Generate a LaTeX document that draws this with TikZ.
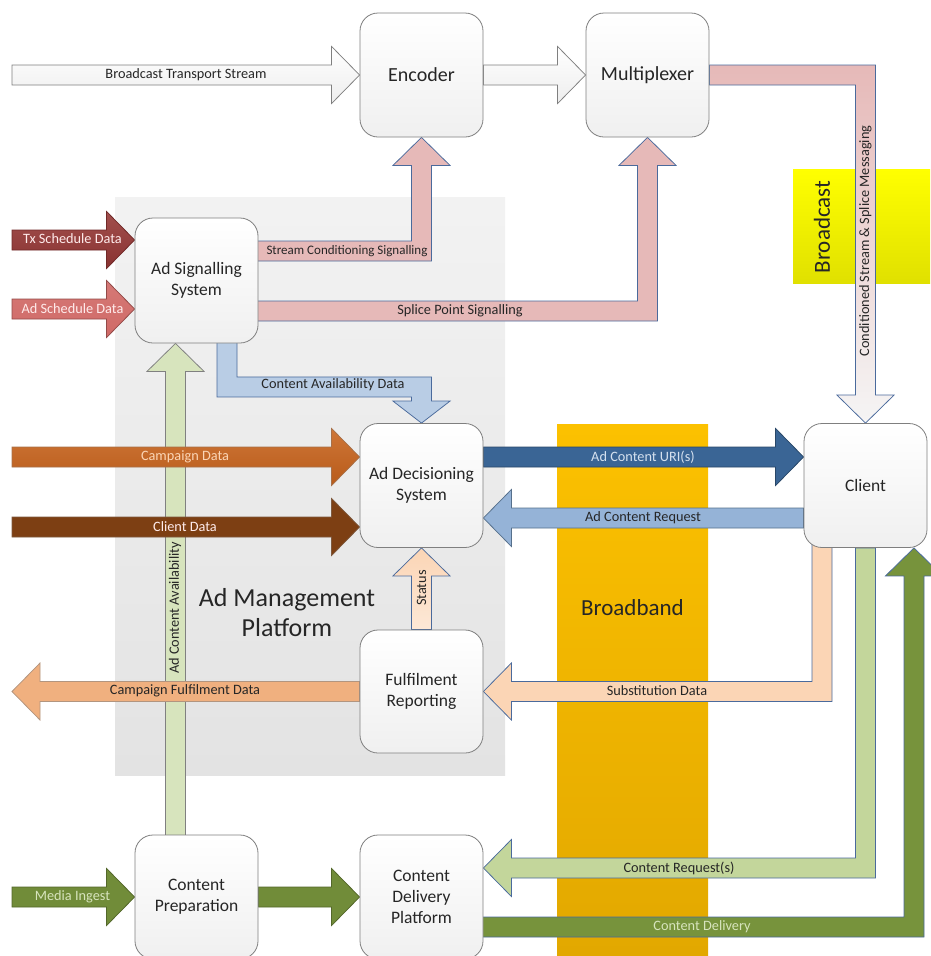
\documentclass[tikz,border=0pt]{standalone}
\usepackage{fontspec}
\setmainfont{Carlito}
\usetikzlibrary{calc,backgrounds}

\definecolor{boxline}{HTML}{7F7F7F}
\definecolor{textdark}{HTML}{262626}
\definecolor{flowblue}{HTML}{4A6A9C}
\definecolor{pinkfill}{HTML}{E6B9B8}
\definecolor{avblue}{HTML}{B9CDE5}
\definecolor{txred}{HTML}{953735}
\definecolor{adred}{HTML}{D06A67}
\definecolor{acgreen}{HTML}{D7E4BD}
\definecolor{campor}{HTML}{C8631C}
\definecolor{clbrown}{HTML}{7D3F13}
\definecolor{uriblue}{HTML}{3A6595}
\definecolor{reqblue}{HTML}{95B3D7}
\definecolor{peach}{HTML}{FBD5B5}
\definecolor{fulfor}{HTML}{F0B07F}
\definecolor{crgreen}{HTML}{C3D69B}
\definecolor{cdgreen}{HTML}{77933C}

\tikzset{
  box/.style={draw=boxline, line width=0.8pt, rounded corners=18pt,
    top color=white, bottom color=gray!12, minimum width=123pt,
    minimum height=124pt, align=center, text=textdark, inner sep=2pt,
    font=\fontsize{17.5}{21}\selectfont},
  bigbox/.style={box, font=\fontsize{20}{24}\selectfont},
  lbl/.style={font=\fontsize{14.3}{17}\selectfont, text=textdark, inner sep=0pt},
  flow/.style={draw=flowblue, line width=0.75pt, line join=miter},
  btsflow/.style={flow, draw=boxline, top color=white, bottom color=gray!14},
  sigflow/.style={flow, fill=pinkfill},
  condflow/.style={flow, top color=pinkfill, bottom color=gray!8},
  avflow/.style={flow, fill=avblue},
  txflow/.style={flow, draw=txred!75!black, top color=txred!88!white, bottom color=txred!92!black},
  adschflow/.style={flow, draw=adred!70!black, top color=adred!90!white, bottom color=adred},
  acflow/.style={flow, draw=gray, fill=acgreen},
  campflow/.style={flow, draw=campor!55!gray, top color=campor!88!white, bottom color=campor!92!black},
  clientflow/.style={flow, draw=clbrown!60!gray, fill=clbrown},
  uriflow/.style={flow, draw=uriblue!70!black, fill=uriblue},
  reqflow/.style={flow, draw=uriblue!60!gray, fill=reqblue},
  statflow/.style={flow, top color=peach, bottom color=peach!55!white},
  fulflow/.style={flow, draw=fulfor!45!gray, fill=fulfor},
  subflow/.style={flow, fill=peach},
  crflow/.style={flow, fill=crgreen},
  cdflow/.style={flow, fill=cdgreen},
  miflow/.style={flow, draw=cdgreen!70!black, fill=cdgreen!95!black},
}

% straight block arrow: style, start, tip
\newcommand{\flowS}[3]{%
  \coordinate (fa) at #2;
  \coordinate (fb) at #3;
  \coordinate (fh) at ($(fb)!28pt!(fa)$);
  \path[#1] ($(fa)!10pt!90:(fb)$) -- ($(fh)!10pt!90:(fb)$) -- ($(fh)!28.5pt!90:(fb)$)
    -- (fb) -- ($(fh)!28.5pt!-90:(fb)$) -- ($(fh)!10pt!-90:(fb)$)
    -- ($(fa)!10pt!-90:(fb)$) -- cycle;
}
% block arrow with one bend: style, start, corner, tip
\newcommand{\flowL}[4]{%
  \coordinate (fa) at #2;
  \coordinate (fc) at #3;
  \coordinate (fb) at #4;
  \coordinate (fh) at ($(fb)!28pt!(fc)$);
  \coordinate (fp) at ($(fc)!10pt!-90:(fa)$);
  \coordinate (fq) at ($(fp)!10pt!90:(fb)$);
  \coordinate (fr) at ($(fc)!10pt!90:(fa)$);
  \coordinate (fs) at ($(fr)!10pt!-90:(fb)$);
  \path[#1] ($(fa)!10pt!90:(fc)$) -- (fq) -- ($(fh)!10pt!90:(fb)$) -- ($(fh)!28.5pt!90:(fb)$)
    -- (fb) -- ($(fh)!28.5pt!-90:(fb)$) -- ($(fh)!10pt!-90:(fb)$) -- (fs)
    -- ($(fa)!10pt!-90:(fc)$) -- cycle;
}
% block arrow with two bends: style, start, corner, corner, tip
\newcommand{\flowZ}[5]{%
  \coordinate (fa) at #2;
  \coordinate (fc) at #3;
  \coordinate (fd) at #4;
  \coordinate (fb) at #5;
  \coordinate (fh) at ($(fb)!22pt!(fd)$);
  \coordinate (fp) at ($(fc)!10pt!-90:(fa)$);
  \coordinate (fq) at ($(fp)!10pt!90:(fd)$);
  \coordinate (fr) at ($(fc)!10pt!90:(fa)$);
  \coordinate (fs) at ($(fr)!10pt!-90:(fd)$);
  \coordinate (fu) at ($(fd)!10pt!-90:(fc)$);
  \coordinate (fv) at ($(fu)!10pt!90:(fb)$);
  \coordinate (fw) at ($(fd)!10pt!90:(fc)$);
  \coordinate (fx) at ($(fw)!10pt!-90:(fb)$);
  \path[#1] ($(fa)!10pt!90:(fc)$) -- (fq) -- (fv) -- ($(fh)!10pt!90:(fb)$)
    -- ($(fh)!28.5pt!90:(fb)$) -- (fb) -- ($(fh)!28.5pt!-90:(fb)$)
    -- ($(fh)!10pt!-90:(fb)$) -- (fx) -- (fs) -- ($(fa)!10pt!-90:(fc)$) -- cycle;
}

\begin{document}
\begin{tikzpicture}[x=1pt, y=-1pt]
    \useasboundingbox (0,0) rectangle (930,956);

    % Boxes
    \node[bigbox] (enc) at (421.5,75) {Encoder};
    \node[bigbox] (mux) at (647.5,75) {Multiplexer};
    \node[box, minimum height=125pt] (ads) at (196.5,280.5) {Ad Signalling\\System};
    \node[box] (adec) at (421.5,485.5) {Ad Decisioning\\System};
    \node[box] (client) at (865.5,485.5) {Client};
    \node[box, minimum height=123pt] (frep) at (421.5,691.5) {Fulfilment\\Reporting};
    \node[box] (cprep) at (196.5,897) {Content\\Preparation};
    \node[box] (cdp) at (421.5,897) {Content\\Delivery\\Platform};

    % Free ends
    \coordinate (btsin) at (12,75);
    \coordinate (txin) at (12,240);
    \coordinate (adin) at (12,309);
    \coordinate (campin) at (12,457);
    \coordinate (clin) at (12,527);
    \coordinate (fulout) at (12,691.5);
    \coordinate (miin) at (12,897);

    % Arrow labels
    \node[lbl] (btsl) at (186,75) {Broadcast Transport Stream};
    \node[lbl, font=\fontsize{13}{15}\selectfont] (scl) at (347,251) {Stream Conditioning Signalling};
    \node[lbl] (spl) at (460,311) {Splice Point Signalling};
    \node[lbl] (cal) at (333,385) {Content Availability Data};
    \node[lbl, rotate=90] (csl) at (865.5,241) {Conditioned Stream \& Splice Messaging};
    \node[lbl, text=red!8] (txl) at (72.5,239) {Tx Schedule Data};
    \node[lbl, text=red!8] (adl) at (72.5,309) {Ad Schedule Data};
    \node[lbl, text=peach] (campl) at (185,457) {Campaign Data};
    \node[lbl, text=red!8] (cll) at (185,527) {Client Data};
    \node[lbl, text=avblue!60!white] (uril) at (643,457) {Ad Content URI(s)};
    \node[lbl] (reql) at (643,518) {Ad Content Request};
    \node[lbl, rotate=90] (statl) at (421.5,588) {Status};
    \node[lbl] (full) at (185,691) {Campaign Fulfilment Data};
    \node[lbl] (subl) at (657,691) {Substitution Data};
    \node[lbl] (crl) at (679,868) {Content Request(s)};
    \node[lbl, text=acgreen] (cdl) at (702,927) {Content Delivery};
    \node[lbl, text=acgreen] (mil) at (72.5,897) {Media Ingest};
    \node[lbl, rotate=90] (acl) at (175,608) {Ad Content Availability};

    % Area titles
    \node[font=\fontsize{26}{30}\selectfont, text=textdark, align=center] (amp) at (287,613) {Ad Management\\Platform};
    \node[font=\fontsize{23}{27}\selectfont, text=textdark] (bbl) at (632.5,608) {Broadband};
    \node[font=\fontsize{23}{27}\selectfont, text=textdark, rotate=90] (bcl) at (822,227) {Broadcast};

    \begin{scope}[on background layer]
    % Areas
    \path[top color=gray!10, bottom color=gray!22] (115,197) rectangle (505,775);
    \path[top color={rgb,255:red,252;green,193;blue,0}, bottom color={rgb,255:red,226;green,168;blue,0}] (557,424) rectangle (708,956);
    \path[top color=yellow, bottom color=yellow!88!black] (793,169) rectangle (930,283);

    % Signalling
    \flowS{acflow}{($(cprep.north)+(-21,5)$)}{($(ads.south)+(-21,0)$)}
    \coordinate (sc0) at ($(ads.east)+(-5,-29.5)$);
    \flowL{sigflow}{(sc0)}{(enc.south |- sc0)}{(enc.south)}
    \coordinate (sp0) at ($(ads.east)+(-5,30.5)$);
    \flowL{sigflow}{(sp0)}{(mux.south |- sp0)}{(mux.south)}
    \coordinate (ca0) at ($(ads.south)+(30.5,-5)$);
    \coordinate (ca1) at ($(ca0)+(0,48.5)$);
    \flowZ{avflow}{(ca0)}{(ca1)}{(adec.north |- ca1)}{(adec.north)}
    \flowS{txflow}{(txin)}{(ads.west |- txin)}
    \flowS{adschflow}{(adin)}{(ads.west |- adin)}

    % Broadcast chain
    \flowS{btsflow}{(btsin)}{(enc.west)}
    \flowS{btsflow}{(enc.east)}{(mux.west)}
    \flowL{condflow}{(mux.east)}{(client.north |- mux.east)}{(client.north)}

    % Decisioning
    \flowS{campflow}{(campin)}{(adec.west |- campin)}
    \flowS{clientflow}{(clin)}{(adec.west |- clin)}
    \flowS{uriflow}{($(adec.east)+(0,-28.5)$)}{($(client.west)+(0,-28.5)$)}
    \flowS{reqflow}{($(client.west)+(0,32.5)$)}{($(adec.east)+(0,32.5)$)}

    % Reporting
    \flowS{statflow}{(frep.north)}{(adec.south)}
    \flowS{fulflow}{(frep.west)}{(fulout)}
    \coordinate (sb0) at ($(client.south)+(-43.5,-15)$);
    \flowL{subflow}{(sb0)}{(sb0 |- frep.east)}{(frep.east)}

    % Content
    \flowS{miflow}{(miin)}{(cprep.west |- miin)}
    \flowS{miflow}{(cprep.east)}{(cdp.west)}
    \coordinate (cr0) at ($(cdp.east)+(0,-29)$);
    \flowL{crflow}{(client.south)}{(client.south |- cr0)}{(cr0)}
    \coordinate (cd0) at ($(cdp.east)+(-5,30)$);
    \coordinate (cd1) at ($(client.south)+(48.5,0)$);
    \flowL{cdflow}{(cd0)}{(cd1 |- cd0)}{(cd1)}
    \end{scope}
\end{tikzpicture}
\end{document}
